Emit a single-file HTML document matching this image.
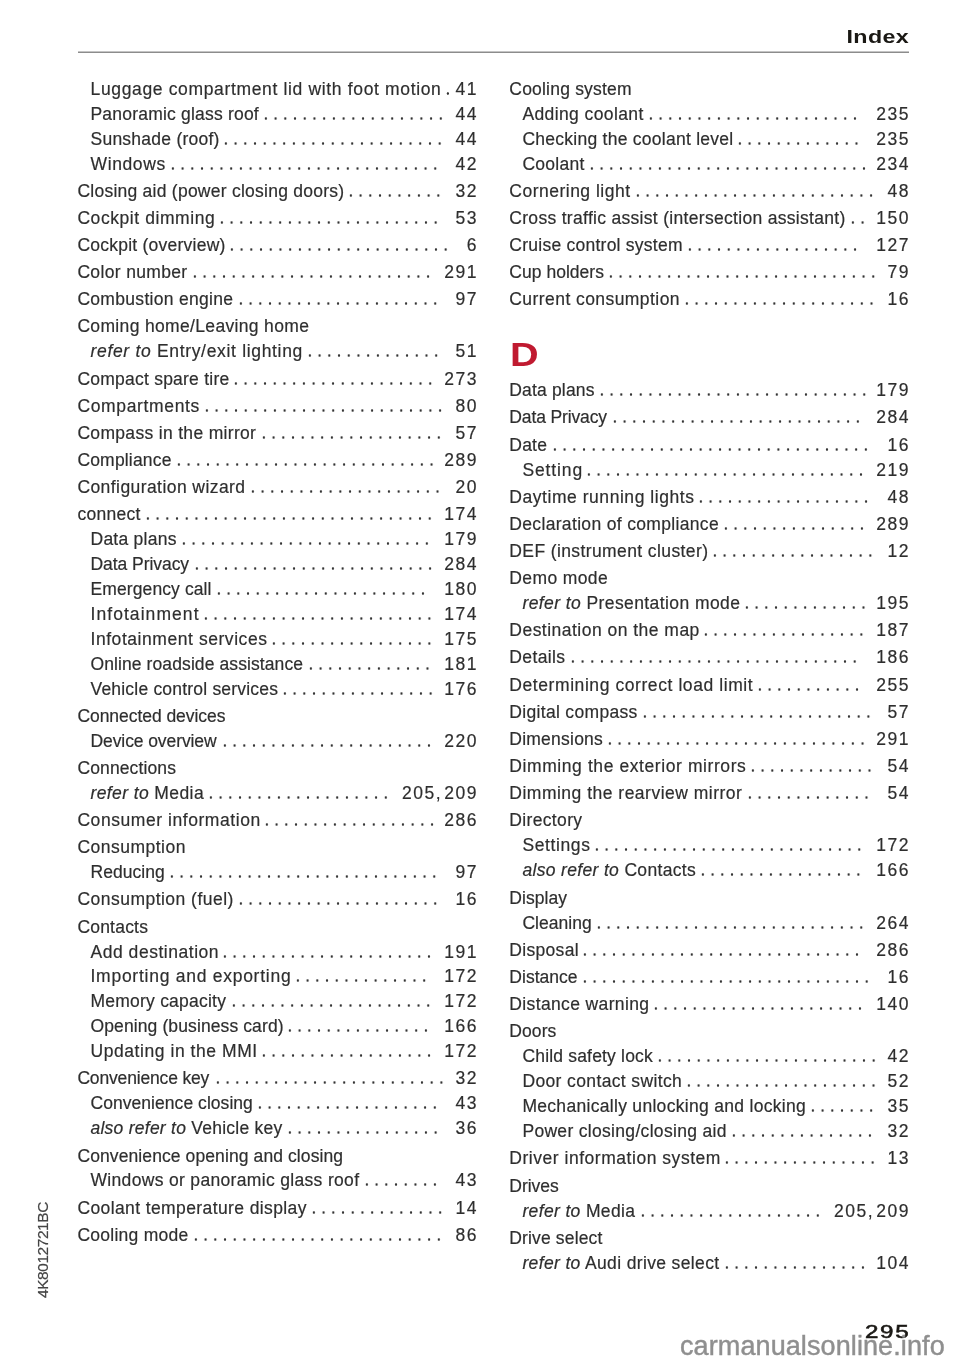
<!DOCTYPE html>
<html><head><meta charset="utf-8">
<style>
html,body{margin:0;padding:0;background:#fff;}
body{width:960px;height:1363px;position:relative;overflow:hidden;will-change:transform;font-family:"Liberation Sans",sans-serif;color:#2e2e2e;}
.t,.n{position:absolute;height:20px;line-height:20px;font-size:17.5px;white-space:nowrap;-webkit-text-stroke:0.2px #333;}
.n{letter-spacing:1.5px;margin-right:-1.5px;}
.n b{font-weight:normal;letter-spacing:-0.6px;}
.d{position:absolute;height:3px;background-image:radial-gradient(circle at 50% 50%, #333 0, #333 0.9px, rgba(51,51,51,0) 1.5px);background-size:9.722px 3px;background-repeat:repeat-x;}
.hdr{position:absolute;right:50.5px;top:27px;font-weight:bold;font-size:17.5px;letter-spacing:0.3px;color:#1a1814;line-height:20px;transform:scaleX(1.33);transform-origin:100% 0;}
.rule{position:absolute;left:78px;top:51px;width:831px;height:1px;background:#c4c4c4;}
.rule2{position:absolute;left:78px;top:52px;width:831px;height:1px;background:#8c8c8c;}
.D{position:absolute;left:510px;top:337px;font-weight:bold;font-size:32.5px;line-height:36px;color:#c01a30;transform:scaleX(1.22);transform-origin:0 0;}
.side{position:absolute;left:36.5px;top:1298px;font-size:15.5px;color:#444;-webkit-text-stroke:0.2px #444;transform:rotate(-90deg);transform-origin:0 0;line-height:12px;letter-spacing:-0.45px;}
.pg{position:absolute;left:865px;top:1322px;font-weight:normal;-webkit-text-stroke:0.55px #1a1814;font-size:17.5px;letter-spacing:1.2px;color:#1a1814;line-height:20px;transform:scaleX(1.38);transform-origin:0 0;}
.wm{position:absolute;left:680px;top:1331px;font-size:27px;letter-spacing:0.1px;color:#8f8f8f;-webkit-text-stroke:0.45px #8f8f8f;line-height:30px;}
</style></head><body>
<div class="hdr">Index</div>
<div class="rule"></div><div class="rule2"></div>
<div class="D">D</div>
<div class="t" style="left:90.5px;top:79px;letter-spacing:0.652px">Luggage compartment lid with foot motion</div>
<div class="n" style="right:483.5px;top:79px">41</div>
<div class="d" style="left:442.64px;top:92px;width:9.72px"></div>
<div class="t" style="left:90.5px;top:104px;letter-spacing:0.201px">Panoramic glass roof</div>
<div class="n" style="right:483.5px;top:104px">44</div>
<div class="d" style="left:261.44px;top:117px;width:184.68px"></div>
<div class="t" style="left:90.5px;top:129px;letter-spacing:0.244px">Sunshade (roof)</div>
<div class="n" style="right:483.5px;top:129px">44</div>
<div class="d" style="left:221.44px;top:142px;width:223.56px"></div>
<div class="t" style="left:90.5px;top:154px;letter-spacing:0.613px">Windows</div>
<div class="n" style="right:483.5px;top:154px">42</div>
<div class="d" style="left:167.94px;top:167px;width:272.16px"></div>
<div class="t" style="left:77.4px;top:181px;letter-spacing:0.249px">Closing aid (power closing doors)</div>
<div class="n" style="right:483.5px;top:181px">32</div>
<div class="d" style="left:345.94px;top:194px;width:97.20px"></div>
<div class="t" style="left:77.4px;top:208px;letter-spacing:0.566px">Cockpit dimming</div>
<div class="n" style="right:483.5px;top:208px">53</div>
<div class="d" style="left:216.94px;top:221px;width:223.56px"></div>
<div class="t" style="left:77.4px;top:235px;letter-spacing:0.239px">Cockpit (overview)</div>
<div class="n" style="right:483.5px;top:235px">6</div>
<div class="d" style="left:227.04px;top:248px;width:223.56px"></div>
<div class="t" style="left:77.4px;top:262px;letter-spacing:0.344px">Color number</div>
<div class="n" style="right:483.5px;top:262px">291</div>
<div class="d" style="left:189.84px;top:275px;width:243.00px"></div>
<div class="t" style="left:77.4px;top:289px;letter-spacing:0.305px">Combustion engine</div>
<div class="n" style="right:483.5px;top:289px">97</div>
<div class="d" style="left:235.74px;top:302px;width:204.12px"></div>
<div class="t" style="left:77.4px;top:316px;letter-spacing:0.337px">Coming home/Leaving home</div>
<div class="t" style="left:90.5px;top:341px;letter-spacing:0.676px"><i>refer to</i> Entry/exit lighting</div>
<div class="n" style="right:483.5px;top:341px">51</div>
<div class="d" style="left:304.84px;top:354px;width:136.08px"></div>
<div class="t" style="left:77.4px;top:369px;letter-spacing:0.233px">Compact spare tire</div>
<div class="n" style="right:483.5px;top:369px">273</div>
<div class="d" style="left:231.34px;top:382px;width:204.12px"></div>
<div class="t" style="left:77.4px;top:396px;letter-spacing:0.653px">Compartments</div>
<div class="n" style="right:483.5px;top:396px">80</div>
<div class="d" style="left:201.64px;top:409px;width:243.00px"></div>
<div class="t" style="left:77.4px;top:423px;letter-spacing:0.320px">Compass in the mirror</div>
<div class="n" style="right:483.5px;top:423px">57</div>
<div class="d" style="left:258.54px;top:436px;width:184.68px"></div>
<div class="t" style="left:77.4px;top:450px;letter-spacing:0.180px">Compliance</div>
<div class="n" style="right:483.5px;top:450px">289</div>
<div class="d" style="left:173.64px;top:463px;width:262.44px"></div>
<div class="t" style="left:77.4px;top:477px;letter-spacing:0.427px">Configuration wizard</div>
<div class="n" style="right:483.5px;top:477px">20</div>
<div class="d" style="left:247.54px;top:490px;width:194.40px"></div>
<div class="t" style="left:77.4px;top:504px;letter-spacing:0.280px">connect</div>
<div class="n" style="right:483.5px;top:504px">174</div>
<div class="d" style="left:142.94px;top:517px;width:291.60px"></div>
<div class="t" style="left:90.5px;top:529px;letter-spacing:0.247px">Data plans</div>
<div class="n" style="right:483.5px;top:529px">179</div>
<div class="d" style="left:178.84px;top:542px;width:252.72px"></div>
<div class="t" style="left:90.5px;top:554px;letter-spacing:-0.056px">Data Privacy</div>
<div class="n" style="right:483.5px;top:554px">284</div>
<div class="d" style="left:192.04px;top:567px;width:243.00px"></div>
<div class="t" style="left:90.5px;top:579px;letter-spacing:0.103px">Emergency call</div>
<div class="n" style="right:483.5px;top:579px">180</div>
<div class="d" style="left:213.84px;top:592px;width:213.84px"></div>
<div class="t" style="left:90.5px;top:604px;letter-spacing:1.062px">Infotainment</div>
<div class="n" style="right:483.5px;top:604px">174</div>
<div class="d" style="left:201.14px;top:617px;width:233.28px"></div>
<div class="t" style="left:90.5px;top:629px;letter-spacing:0.555px">Infotainment services</div>
<div class="n" style="right:483.5px;top:629px">175</div>
<div class="d" style="left:269.44px;top:642px;width:165.24px"></div>
<div class="t" style="left:90.5px;top:654px;letter-spacing:0.096px">Online roadside assistance</div>
<div class="n" style="right:483.5px;top:654px">181</div>
<div class="d" style="left:305.74px;top:667px;width:126.36px"></div>
<div class="t" style="left:90.5px;top:679px;letter-spacing:0.202px">Vehicle control services</div>
<div class="n" style="right:483.5px;top:679px">176</div>
<div class="d" style="left:280.34px;top:692px;width:155.52px"></div>
<div class="t" style="left:77.4px;top:706px;letter-spacing:-0.051px">Connected devices</div>
<div class="t" style="left:90.5px;top:731px;letter-spacing:-0.091px">Device overview</div>
<div class="n" style="right:483.5px;top:731px">220</div>
<div class="d" style="left:219.54px;top:744px;width:213.84px"></div>
<div class="t" style="left:77.4px;top:758px;letter-spacing:0.130px">Connections</div>
<div class="t" style="left:90.5px;top:783px;letter-spacing:0.395px"><i>refer to</i> Media</div>
<div class="n" style="right:483.5px;top:783px">205<b>, </b>209</div>
<div class="d" style="left:206.44px;top:796px;width:184.68px"></div>
<div class="t" style="left:77.4px;top:810px;letter-spacing:0.559px">Consumer information</div>
<div class="n" style="right:483.5px;top:810px">286</div>
<div class="d" style="left:262.04px;top:823px;width:174.96px"></div>
<div class="t" style="left:77.4px;top:837px;letter-spacing:0.490px">Consumption</div>
<div class="t" style="left:90.5px;top:862px;letter-spacing:0.037px">Reducing</div>
<div class="n" style="right:483.5px;top:862px">97</div>
<div class="d" style="left:167.04px;top:875px;width:272.16px"></div>
<div class="t" style="left:77.4px;top:889px;letter-spacing:0.480px">Consumption (fuel)</div>
<div class="n" style="right:483.5px;top:889px">16</div>
<div class="d" style="left:235.74px;top:902px;width:204.12px"></div>
<div class="t" style="left:77.4px;top:917px;letter-spacing:0.209px">Contacts</div>
<div class="t" style="left:90.5px;top:942px;letter-spacing:0.530px">Add destination</div>
<div class="n" style="right:483.5px;top:942px">191</div>
<div class="d" style="left:220.44px;top:955px;width:213.84px"></div>
<div class="t" style="left:90.5px;top:966px;letter-spacing:0.739px">Importing and exporting</div>
<div class="n" style="right:483.5px;top:966px">172</div>
<div class="d" style="left:292.64px;top:979px;width:136.08px"></div>
<div class="t" style="left:90.5px;top:991px;letter-spacing:0.226px">Memory capacity</div>
<div class="n" style="right:483.5px;top:991px">172</div>
<div class="d" style="left:229.19px;top:1004px;width:204.12px"></div>
<div class="t" style="left:90.5px;top:1016px;letter-spacing:0.110px">Opening (business card)</div>
<div class="n" style="right:483.5px;top:1016px">166</div>
<div class="d" style="left:285.19px;top:1029px;width:145.80px"></div>
<div class="t" style="left:90.5px;top:1041px;letter-spacing:0.558px">Updating in the MMI</div>
<div class="n" style="right:483.5px;top:1041px">172</div>
<div class="d" style="left:258.94px;top:1054px;width:174.96px"></div>
<div class="t" style="left:77.4px;top:1068px;letter-spacing:-0.163px">Convenience key</div>
<div class="n" style="right:483.5px;top:1068px">32</div>
<div class="d" style="left:212.54px;top:1081px;width:233.28px"></div>
<div class="t" style="left:90.5px;top:1093px;letter-spacing:0.047px">Convenience closing</div>
<div class="n" style="right:483.5px;top:1093px">43</div>
<div class="d" style="left:254.54px;top:1106px;width:184.68px"></div>
<div class="t" style="left:90.5px;top:1118px;letter-spacing:0.249px"><i>also refer to</i> Vehicle key</div>
<div class="n" style="right:483.5px;top:1118px">36</div>
<div class="d" style="left:285.19px;top:1131px;width:155.52px"></div>
<div class="t" style="left:77.4px;top:1146px;letter-spacing:0.100px">Convenience opening and closing</div>
<div class="t" style="left:90.5px;top:1170px;letter-spacing:0.327px">Windows or panoramic glass roof</div>
<div class="n" style="right:483.5px;top:1170px">43</div>
<div class="d" style="left:361.74px;top:1183px;width:77.76px"></div>
<div class="t" style="left:77.4px;top:1198px;letter-spacing:0.392px">Coolant temperature display</div>
<div class="n" style="right:483.5px;top:1198px">14</div>
<div class="d" style="left:309.24px;top:1211px;width:136.08px"></div>
<div class="t" style="left:77.4px;top:1225px;letter-spacing:0.257px">Cooling mode</div>
<div class="n" style="right:483.5px;top:1225px">86</div>
<div class="d" style="left:190.69px;top:1238px;width:252.72px"></div>
<div class="t" style="left:509.3px;top:79px;letter-spacing:0.203px">Cooling system</div>
<div class="t" style="left:522.4px;top:104px;letter-spacing:0.395px">Adding coolant</div>
<div class="n" style="right:51.5px;top:104px">235</div>
<div class="d" style="left:646.44px;top:117px;width:213.84px"></div>
<div class="t" style="left:522.4px;top:129px;letter-spacing:0.260px">Checking the coolant level</div>
<div class="n" style="right:51.5px;top:129px">235</div>
<div class="d" style="left:735.44px;top:142px;width:126.36px"></div>
<div class="t" style="left:522.4px;top:154px;letter-spacing:0.280px">Coolant</div>
<div class="n" style="right:51.5px;top:154px">234</div>
<div class="d" style="left:586.94px;top:167px;width:281.88px"></div>
<div class="t" style="left:509.3px;top:181px;letter-spacing:0.494px">Cornering light</div>
<div class="n" style="right:51.5px;top:181px">48</div>
<div class="d" style="left:632.94px;top:194px;width:243.00px"></div>
<div class="t" style="left:509.3px;top:208px;letter-spacing:0.305px">Cross traffic assist (intersection assistant)</div>
<div class="n" style="right:51.5px;top:208px">150</div>
<div class="d" style="left:847.64px;top:221px;width:19.44px"></div>
<div class="t" style="left:509.3px;top:235px;letter-spacing:0.250px">Cruise control system</div>
<div class="n" style="right:51.5px;top:235px">127</div>
<div class="d" style="left:684.74px;top:248px;width:174.96px"></div>
<div class="t" style="left:509.3px;top:262px;letter-spacing:0.030px">Cup holders</div>
<div class="n" style="right:51.5px;top:262px">79</div>
<div class="d" style="left:606.44px;top:275px;width:272.16px"></div>
<div class="t" style="left:509.3px;top:289px;letter-spacing:0.433px">Current consumption</div>
<div class="n" style="right:51.5px;top:289px">16</div>
<div class="d" style="left:681.69px;top:302px;width:194.40px"></div>
<div class="t" style="left:509.3px;top:380px;letter-spacing:0.169px">Data plans</div>
<div class="n" style="right:51.5px;top:380px">179</div>
<div class="d" style="left:596.94px;top:393px;width:272.16px"></div>
<div class="t" style="left:509.3px;top:407px;letter-spacing:-0.129px">Data Privacy</div>
<div class="n" style="right:51.5px;top:407px">284</div>
<div class="d" style="left:610.44px;top:420px;width:252.72px"></div>
<div class="t" style="left:509.3px;top:435px;letter-spacing:0.213px">Date</div>
<div class="n" style="right:51.5px;top:435px">16</div>
<div class="d" style="left:549.54px;top:448px;width:320.76px"></div>
<div class="t" style="left:522.4px;top:460px;letter-spacing:0.880px">Setting</div>
<div class="n" style="right:51.5px;top:460px">219</div>
<div class="d" style="left:584.14px;top:473px;width:281.88px"></div>
<div class="t" style="left:509.3px;top:487px;letter-spacing:0.547px">Daytime running lights</div>
<div class="n" style="right:51.5px;top:487px">48</div>
<div class="d" style="left:696.14px;top:500px;width:174.96px"></div>
<div class="t" style="left:509.3px;top:514px;letter-spacing:0.334px">Declaration of compliance</div>
<div class="n" style="right:51.5px;top:514px">289</div>
<div class="d" style="left:721.04px;top:527px;width:145.80px"></div>
<div class="t" style="left:509.3px;top:541px;letter-spacing:0.393px">DEF (instrument cluster)</div>
<div class="n" style="right:51.5px;top:541px">12</div>
<div class="d" style="left:710.14px;top:554px;width:165.24px"></div>
<div class="t" style="left:509.3px;top:568px;letter-spacing:0.380px">Demo mode</div>
<div class="t" style="left:522.4px;top:593px;letter-spacing:0.412px"><i>refer to</i> Presentation mode</div>
<div class="n" style="right:51.5px;top:593px">195</div>
<div class="d" style="left:742.04px;top:606px;width:126.36px"></div>
<div class="t" style="left:509.3px;top:620px;letter-spacing:0.480px">Destination on the map</div>
<div class="n" style="right:51.5px;top:620px">187</div>
<div class="d" style="left:701.34px;top:633px;width:165.24px"></div>
<div class="t" style="left:509.3px;top:647px;letter-spacing:0.380px">Details</div>
<div class="n" style="right:51.5px;top:647px">186</div>
<div class="d" style="left:567.94px;top:660px;width:291.60px"></div>
<div class="t" style="left:509.3px;top:675px;letter-spacing:0.577px">Determining correct load limit</div>
<div class="n" style="right:51.5px;top:675px">255</div>
<div class="d" style="left:755.14px;top:688px;width:106.92px"></div>
<div class="t" style="left:509.3px;top:702px;letter-spacing:0.323px">Digital compass</div>
<div class="n" style="right:51.5px;top:702px">57</div>
<div class="d" style="left:640.14px;top:715px;width:233.28px"></div>
<div class="t" style="left:509.3px;top:729px;letter-spacing:0.236px">Dimensions</div>
<div class="n" style="right:51.5px;top:729px">291</div>
<div class="d" style="left:605.14px;top:742px;width:262.44px"></div>
<div class="t" style="left:509.3px;top:756px;letter-spacing:0.586px">Dimming the exterior mirrors</div>
<div class="n" style="right:51.5px;top:756px">54</div>
<div class="d" style="left:748.19px;top:769px;width:126.36px"></div>
<div class="t" style="left:509.3px;top:783px;letter-spacing:0.495px">Dimming the rearview mirror</div>
<div class="n" style="right:51.5px;top:783px">54</div>
<div class="d" style="left:745.14px;top:796px;width:126.36px"></div>
<div class="t" style="left:509.3px;top:810px;letter-spacing:0.343px">Directory</div>
<div class="t" style="left:522.4px;top:835px;letter-spacing:0.609px">Settings</div>
<div class="n" style="right:51.5px;top:835px">172</div>
<div class="d" style="left:592.04px;top:848px;width:272.16px"></div>
<div class="t" style="left:522.4px;top:860px;letter-spacing:0.337px"><i>also refer to</i> Contacts</div>
<div class="n" style="right:51.5px;top:860px">166</div>
<div class="d" style="left:698.34px;top:873px;width:165.24px"></div>
<div class="t" style="left:509.3px;top:888px;letter-spacing:0.047px">Display</div>
<div class="t" style="left:522.4px;top:913px;letter-spacing:0.030px">Cleaning</div>
<div class="n" style="right:51.5px;top:913px">264</div>
<div class="d" style="left:594.19px;top:926px;width:272.16px"></div>
<div class="t" style="left:509.3px;top:940px;letter-spacing:0.316px">Disposal</div>
<div class="n" style="right:51.5px;top:940px">286</div>
<div class="d" style="left:580.19px;top:953px;width:281.88px"></div>
<div class="t" style="left:509.3px;top:967px;letter-spacing:0.030px">Distance</div>
<div class="n" style="right:51.5px;top:967px">16</div>
<div class="d" style="left:580.19px;top:980px;width:291.60px"></div>
<div class="t" style="left:509.3px;top:994px;letter-spacing:0.367px">Distance warning</div>
<div class="n" style="right:51.5px;top:994px">140</div>
<div class="d" style="left:651.04px;top:1007px;width:213.84px"></div>
<div class="t" style="left:509.3px;top:1021px;letter-spacing:0.093px">Doors</div>
<div class="t" style="left:522.4px;top:1046px;letter-spacing:0.186px">Child safety lock</div>
<div class="n" style="right:51.5px;top:1046px">42</div>
<div class="d" style="left:655.44px;top:1059px;width:223.56px"></div>
<div class="t" style="left:522.4px;top:1071px;letter-spacing:0.374px">Door contact switch</div>
<div class="n" style="right:51.5px;top:1071px">52</div>
<div class="d" style="left:683.84px;top:1084px;width:194.40px"></div>
<div class="t" style="left:522.4px;top:1096px;letter-spacing:0.303px">Mechanically unlocking and locking</div>
<div class="n" style="right:51.5px;top:1096px">35</div>
<div class="d" style="left:807.69px;top:1109px;width:68.04px"></div>
<div class="t" style="left:522.4px;top:1121px;letter-spacing:0.313px">Power closing/closing aid</div>
<div class="n" style="right:51.5px;top:1121px">32</div>
<div class="d" style="left:728.54px;top:1134px;width:145.80px"></div>
<div class="t" style="left:509.3px;top:1148px;letter-spacing:0.530px">Driver information system</div>
<div class="n" style="right:51.5px;top:1148px">13</div>
<div class="d" style="left:721.94px;top:1161px;width:155.52px"></div>
<div class="t" style="left:509.3px;top:1176px;letter-spacing:-0.020px">Drives</div>
<div class="t" style="left:522.4px;top:1201px;letter-spacing:0.357px"><i>refer to</i> Media</div>
<div class="n" style="right:51.5px;top:1201px">205<b>, </b>209</div>
<div class="d" style="left:637.94px;top:1214px;width:184.68px"></div>
<div class="t" style="left:509.3px;top:1228px;letter-spacing:0.144px">Drive select</div>
<div class="t" style="left:522.4px;top:1253px;letter-spacing:0.360px"><i>refer to</i> Audi drive select</div>
<div class="n" style="right:51.5px;top:1253px">104</div>
<div class="d" style="left:721.94px;top:1266px;width:145.80px"></div>
<div class="side">4K8012721BC</div>
<div class="pg">295</div>
<div class="wm">carmanualsonline.info</div>
</body></html>
